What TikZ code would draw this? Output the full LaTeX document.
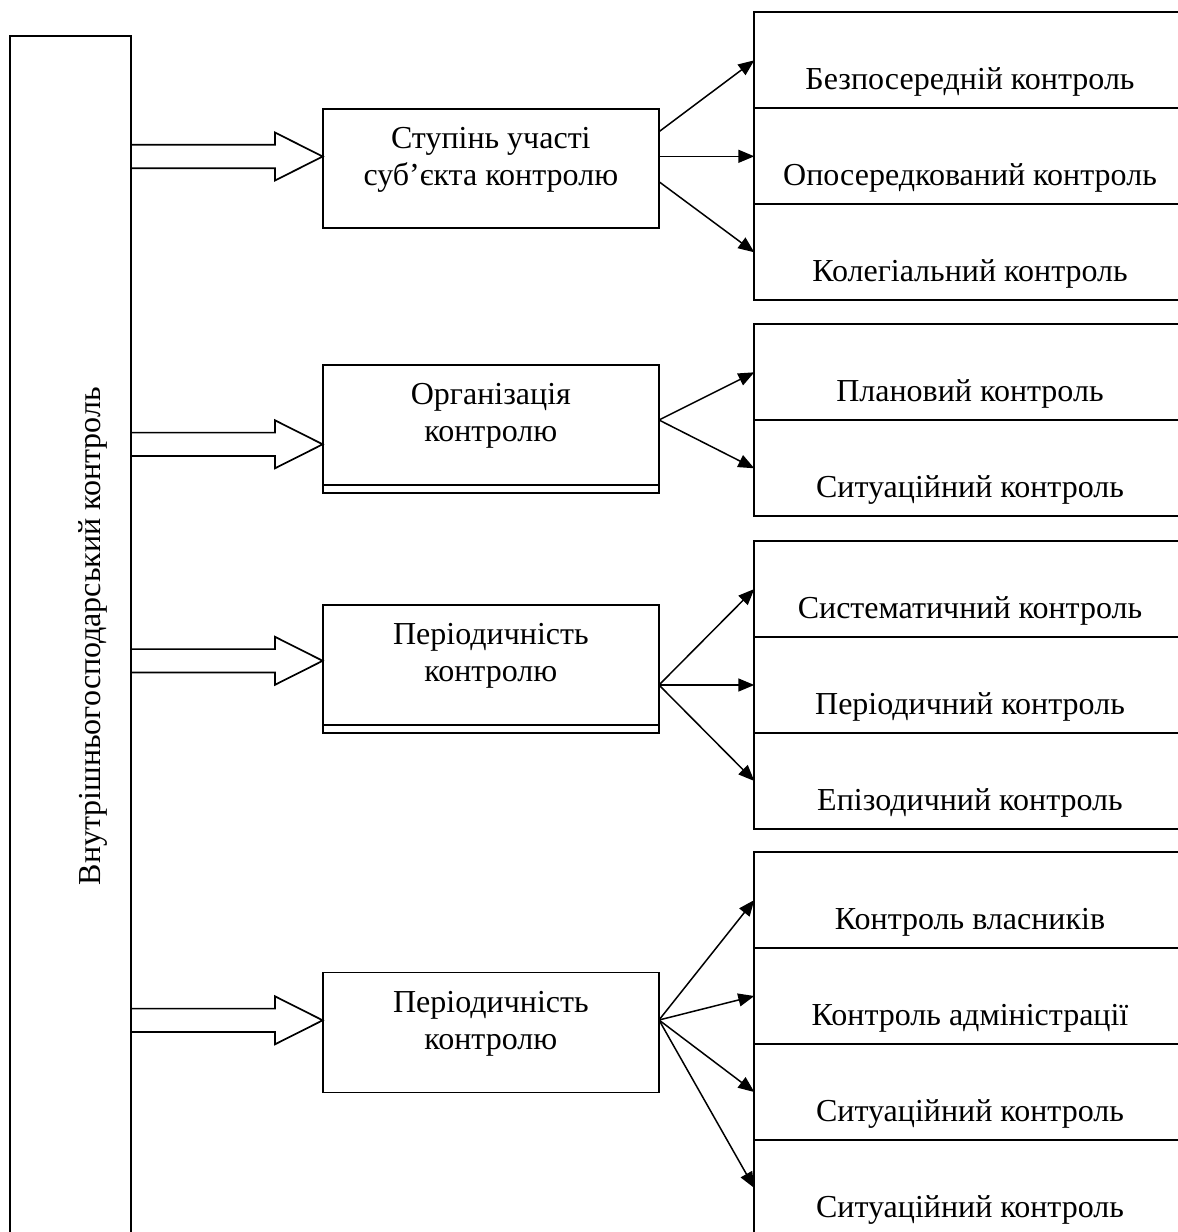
\documentclass[tikz,border=0pt]{standalone}
\usepackage{fontspec}
\setmainfont{Liberation Serif}
\usetikzlibrary{arrows.meta,calc}
\tikzset{
  ln/.style={line width=1.7pt},
  boxst/.style={draw, ln, rectangle, inner sep=0pt, outer sep=0pt, anchor=north west},
  rowbox/.style={boxst, minimum width=431.4pt, minimum height=96pt, text height=58pt, text depth=0pt, font=\fontsize{32}{38}\selectfont},
  txt/.style={anchor=base, inner sep=0pt, outer sep=0pt, font=\fontsize{32}{38}\selectfont},
  fan/.style={line width=1.5pt, -{Triangle[length=16pt,width=13pt]}},
  hollow/.style={ln, line join=miter},
}
\newcommand\hollowarr[2]{\draw[hollow] ($(#1)+(0,-11.7)$) -- ($(#2)+(-47.7,-11.7)$) -- ($(#2)+(-47.7,-24)$) -- (#2) -- ($(#2)+(-47.7,24)$) -- ($(#2)+(-47.7,11.7)$) -- ($(#1)+(0,11.7)$);}
\begin{document}
\begin{tikzpicture}[x=1pt,y=-1pt]
\useasboundingbox (0,0) rectangle (1178,1232);
\fill[white] (0,0) rectangle (1178,1232);
\clip (0,0) rectangle (1178,1232);

% main vertical box
\node[boxst, minimum width=120.7pt, minimum height=1230pt] (main) at (10.3,36) {};
\node[txt, rotate=90] (maintxt) at (100,636) {Внутрішньогосподарський контроль};

% middle boxes
\node[boxst, minimum width=336.3pt, minimum height=119.6pt] (m1) at (322.7,108.7) {};
\node[txt] (m1a) at ($(m1.north)+(0,39.8)$) {Ступінь участі};
\node[txt] (m1b) at ($(m1.north)+(0,76.8)$) {суб’єкта контролю};

\node[boxst, minimum width=336.3pt, minimum height=127.7pt] (m2) at (322.7,365) {};
\draw[ln] ($(m2.south west)+(0,-7.7)$) -- ($(m2.south east)+(0,-7.7)$);
\node[txt] (m2a) at ($(m2.north)+(0,39.5)$) {Організація};
\node[txt] (m2b) at ($(m2.north)+(0,76)$) {контролю};

\node[boxst, minimum width=336.3pt, minimum height=127.7pt] (m3) at (322.7,605) {};
\draw[ln] ($(m3.south west)+(0,-7.7)$) -- ($(m3.south east)+(0,-7.7)$);
\node[txt] (m3a) at ($(m3.north)+(0,39.5)$) {Періодичність};
\node[txt] (m3b) at ($(m3.north)+(0,76)$) {контролю};

\node[boxst, minimum width=336.3pt, minimum height=120pt] (m4) at (322.7,972.5) {};
\node[txt] (m4a) at ($(m4.north)+(0,39.5)$) {Періодичність};
\node[txt] (m4b) at ($(m4.north)+(0,76.5)$) {контролю};

% hollow arrows
\coordinate (h1) at ($(m1.north west)+(0,47.8)$);
\coordinate (h1s) at (main.east |- h1);
\coordinate (h2) at ($(m2.north west)+(0,79.3)$);
\coordinate (h2s) at (main.east |- h2);
\coordinate (h3) at ($(m3.north west)+(0,55.8)$);
\coordinate (h3s) at (main.east |- h3);
\coordinate (h4) at ($(m4.north west)+(0,47.8)$);
\coordinate (h4s) at (main.east |- h4);
\hollowarr{h1s}{h1}
\hollowarr{h2s}{h2}
\hollowarr{h3s}{h3}
\hollowarr{h4s}{h4}

% right boxes
\node[rowbox] (r11) at (754.3,12.3) {Безпосередній контроль};
\node[rowbox] (r12) at (754.3,108.3) {Опосередкований контроль};
\node[rowbox] (r13) at (754.3,204.3) {Колегіальний контроль};

\node[rowbox] (r21) at (754.3,324.3) {Плановий контроль};
\node[rowbox] (r22) at (754.3,420.3) {Ситуаційний контроль};

\node[rowbox] (r31) at (754.3,541) {Систематичний контроль};
\node[rowbox] (r32) at (754.3,637) {Періодичний контроль};
\node[rowbox] (r33) at (754.3,733) {Епізодичний контроль};

\node[rowbox] (r41) at (754.3,852) {Контроль власників};
\node[rowbox] (r42) at (754.3,948) {Контроль адміністрації};
\node[rowbox] (r43) at (754.3,1044) {Ситуаційний контроль};
\node[rowbox] (r44) at (754.3,1140) {Ситуаційний контроль};

% fan arrows
\coordinate (f1a) at ($(m1.north east)+(0,23)$);
\coordinate (f1b) at ($(m1.north east)+(0,47.6)$);
\coordinate (f1c) at ($(m1.north east)+(0,73)$);
\draw[fan] (f1a) -- (r11.west);
\draw[fan] (f1b) -- (r12.west);
\draw[fan] (f1c) -- (r13.west);

\coordinate (f2) at ($(m2.north east)+(0,55)$);
\draw[fan] (f2) -- (r21.west);
\draw[fan] (f2) -- (r22.west);

\coordinate (f3) at ($(m3.north east)+(0,80)$);
\draw[fan] (f3) -- (r31.west);
\draw[fan] (f3) -- (r32.west);
\draw[fan] (f3) -- (r33.west);

\coordinate (f4) at ($(m4.north east)+(0,47.5)$);
\draw[fan] (f4) -- (r41.west);
\draw[fan] (f4) -- (r42.west);
\draw[fan] (f4) -- (r43.west);
\draw[fan] (f4) -- (r44.west);
\end{tikzpicture}
\end{document}
